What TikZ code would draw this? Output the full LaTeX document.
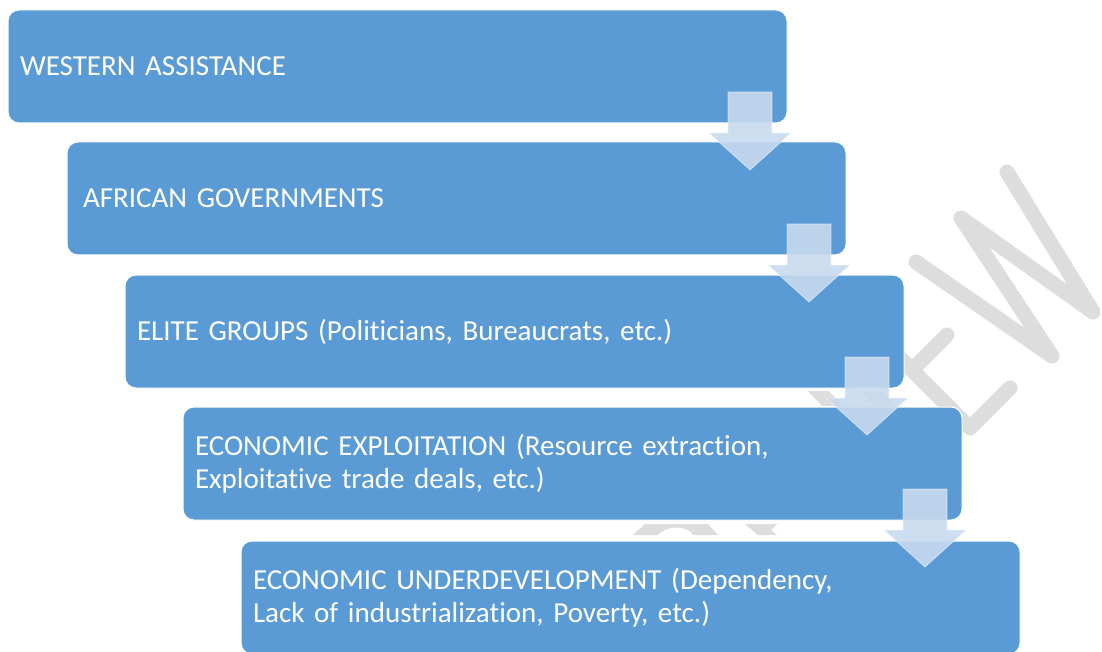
\documentclass[tikz,border=0pt]{standalone}
\usepackage{fontspec}
\setmainfont{Carlito}[Ligatures=NoCommon]
\usetikzlibrary{calc}
\definecolor{boxblue}{RGB}{91,155,213}
\definecolor{arrowfill}{RGB}{200,218,238}
\definecolor{wmgray}{RGB}{221,221,221}
\begin{document}
\begin{tikzpicture}[x=1pt,y=-1pt,
  stage/.style={draw=white, line width=1pt, fill=boxblue, rounded corners=11pt,
    minimum width=779pt, minimum height=113pt, anchor=north west, outer sep=0pt,
    inner xsep=12pt, text width=755pt, align=left, text=white,
    font=\fontsize{29}{33}\selectfont},
  wm/.style={draw=wmgray, line width=15pt, line cap=round, line join=round},
  wmfill/.style={fill=wmgray},
  blockarrow/.pic={\path[fill=arrowfill, fill opacity=0.9, draw=white, draw opacity=0.5, line width=0.8pt]
    (-22,0) -- (22,0) -- (22,41) -- (41,41) -- (0,78) -- (-41,41) -- (-22,41) -- cycle;}]
\useasboundingbox (0,0) rectangle (1102,652);
% watermark (behind the boxes)
\draw[wm] (916,262) -- (1052,356) -- (961,218) -- (1093,312) -- (1007,172);
\draw[wm] (1010,388) -- (970,428) -- (855,313);
\draw[wm] (912,370) -- (947,335);
\begin{scope}
  \clip (700,391) rectangle (950,405);
  \draw[wm, line cap=butt] (810,383) -- (840,413);
  \draw[wm, line cap=butt] (862,383) -- (892,413);
\end{scope}
\fill[wmfill] (633,535) -- (645,524) -- (708,524) -- (718,535) -- (693,535)
  .. controls (688,525) and (666,525) .. (658,535) -- cycle;
\fill[wmfill] (745,524) -- (777,524) -- (771,530) -- (777,535) -- (758,535) -- cycle;
% stages
\node[stage] (b1) at (8,10) {WESTERN ASSISTANCE};
\node[stage, inner xsep=16pt, text width=747pt] (b2) at (67,142) {AFRICAN GOVERNMENTS};
\node[stage] (b3) at (125,275) {ELITE GROUPS (Politicians, Bureaucrats, etc.)};
\node[stage] (b4) at (183,407) {ECONOMIC EXPLOITATION (Resource extraction,\\Exploitative trade deals, etc.)};
\node[stage] (b5) at (241,541) {ECONOMIC UNDERDEVELOPMENT (Dependency,\\Lack of industrialization, Poverty, etc.)};
% arrows
\foreach \i in {1,...,4}
  \pic at ($(b\i.south east)+(-37,-31)$) {blockarrow};
\end{tikzpicture}
\end{document}
